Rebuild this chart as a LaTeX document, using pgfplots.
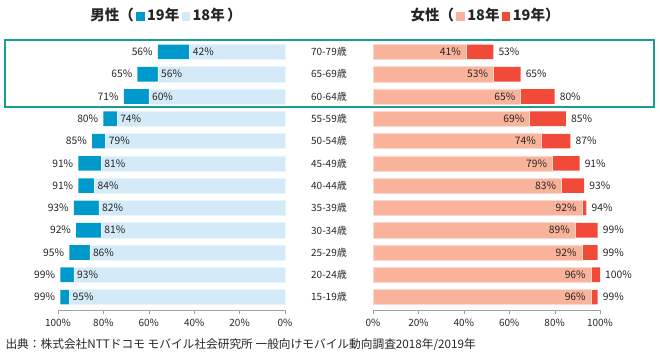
\documentclass[border=0pt]{standalone}
\usepackage{fontspec}
\setmainfont{Noto Sans CJK JP}
\usepackage{pgfplots}
\pgfplotsset{compat=1.18}
\definecolor{mdark}{HTML}{0099CC}
\definecolor{mlight}{HTML}{D4EAF8}
\definecolor{fdark}{HTML}{F24A38}
\definecolor{flight}{HTML}{FAB39B}
\definecolor{teal1}{HTML}{1A9C8E}
\definecolor{txt}{HTML}{262626}
\definecolor{axgray}{HTML}{A0A0A0}
\begin{document}
\begin{tikzpicture}[x=1pt,y=1pt]
\useasboundingbox (0,0) rectangle (660,353);
\pgfplotsset{
  common/.style={
    scale only axis, width=227pt, height=271pt,
    xmin=0, xmax=100, ymin=-0.58, ymax=11.58,
    clip=false,
    axis x line*=bottom, axis y line*=left,
    y axis line style={draw=none},
    x axis line style={draw=axgray},
    ytick={0,...,11}, ytick style={draw=none},
    xtick={0,20,40,60,80,100},
    xticklabels={0\%,20\%,40\%,60\%,80\%,100\%},
    xtick style={draw=axgray},
    tick align=outside, major tick length=4pt,
    /pgf/number format/assume math mode=true,
    tick label style={font=\fontsize{10}{12}\selectfont, text=txt},
    xticklabel style={yshift=-2pt},
    xbar, bar shift=0pt,
  },
  lab/.style={point meta=x, nodes near coords={\pgfmathprintnumber{\pgfplotspointmeta}\%},
    every node near coord/.append style={font=\fontsize{10.3}{12}\selectfont, text=txt, inner sep=1pt}},
}
% Male
\begin{axis}[common, at={(58pt,43pt)}, anchor=south west, x dir=reverse, yticklabels={}]
\addplot[fill=mdark, draw=none, bar width=14.6pt, lab,
  every node near coord/.append style={anchor=east, xshift=-4pt}]
  coordinates {(56,11)(65,10)(71,9)(80,8)(85,7)(91,6)(91,5)(93,4)(92,3)(95,2)(99,1)(99,0)};
\addplot[fill=mlight, draw=white!50!mlight, line width=0.5pt, bar width=15.2pt, lab,
  every node near coord/.append style={anchor=west, xshift=2pt}]
  coordinates {(42,11)(56,10)(60,9)(74,8)(79,7)(81,6)(84,5)(82,4)(81,3)(86,2)(93,1)(95,0)};
\end{axis}
% Female
\begin{axis}[common, at={(373pt,43pt)}, anchor=south west,
  yticklabels={15-19歳,20-24歳,25-29歳,30-34歳,35-39歳,40-44歳,45-49歳,50-54歳,55-59歳,60-64歳,65-69歳,70-79歳},
  yticklabel style={anchor=center, xshift=-40pt}]
\addplot[fill=fdark, draw=none, bar width=14.6pt, lab,
  every node near coord/.append style={anchor=west, xshift=4pt}]
  coordinates {(53,11)(65,10)(80,9)(85,8)(87,7)(91,6)(93,5)(94,4)(99,3)(99,2)(100,1)(99,0)};
\addplot[fill=flight, draw=white!50!flight, line width=0.5pt, bar width=15.2pt, lab,
  every node near coord/.append style={anchor=east, xshift=-4pt}]
  coordinates {(41,11)(53,10)(65,9)(69,8)(74,7)(79,6)(83,5)(92,4)(89,3)(92,2)(96,1)(96,0)};
\end{axis}
% highlight box
\draw[teal1, line width=2pt] (5,246) rectangle (654,313);
% titles
\node[font=\bfseries\fontsize{14.5}{16}\selectfont, text=txt] at (166,338)
  {男性（\,\textcolor{mdark}{\rule{8.5pt}{8.5pt}}\,19年\,\textcolor{mlight}{\rule{8.5pt}{8.5pt}}\,18年\,）};
\node[font=\bfseries\fontsize{14.5}{16}\selectfont, text=txt] at (485,338)
  {女性（\,\textcolor{flight}{\rule{8.5pt}{8.5pt}}\,18年\,\textcolor{fdark}{\rule{8.5pt}{8.5pt}}\,19年）};
% source
\node[font=\fontsize{11.7}{13}\selectfont, text=txt, anchor=west] at (2,8)
  {出典：株式会社NTTドコモ モバイル社会研究所 一般向けモバイル動向調査2018年/2019年};
\end{tikzpicture}
\end{document}
